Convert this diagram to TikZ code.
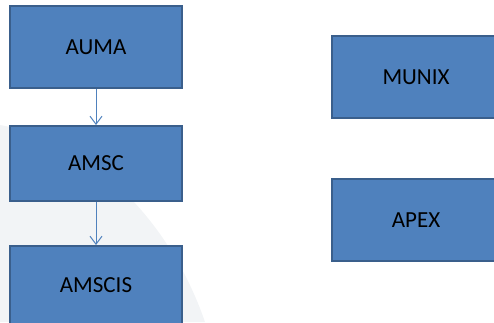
\documentclass[tikz,border=0pt]{standalone}
\usepackage{fontspec}
\setmainfont{Carlito}
\usetikzlibrary{arrows.meta}
\definecolor{boxfill}{HTML}{4F81BD}
\definecolor{boxline}{HTML}{3A5F8C}
\definecolor{swoosh}{HTML}{F2F4F6}

\begin{document}
\begin{tikzpicture}[x=1pt,y=-1pt]
      \tikzset{unit/.style={draw=boxline,fill=boxfill,line width=2pt,inner sep=0pt,
          minimum width=172pt,minimum height=82pt,font=\fontsize{23}{27}\selectfont}}
      \useasboundingbox (0,0) rectangle (494,322);
      \clip (0,0) rectangle (494,322);
      % faint slide background
      \fill[swoosh] (0,125) .. controls (90,140) and (170,220) .. (205,322) -- (0,322) -- cycle;
      \node[unit] (auma) at (96,47) {AUMA};
      \node[unit,minimum height=75pt] (amsc) at (96,163.5) {AMSC};
      \node[unit,minimum height=78pt] (amscis) at (96,285) {AMSCIS};
      \node[unit,minimum width=168pt] (munix) at (416,77) {MUNIX};
      \node[unit,minimum width=168pt] (apex) at (416,220) {APEX};
      \draw[boxfill,line width=1pt,-{Straight Barb[length=8pt,width=12pt]}] (auma) -- (amsc);
      \draw[boxfill,line width=1pt,-{Straight Barb[length=8pt,width=12pt]}] (amsc) -- (amscis);
    \end{tikzpicture}
\end{document}
